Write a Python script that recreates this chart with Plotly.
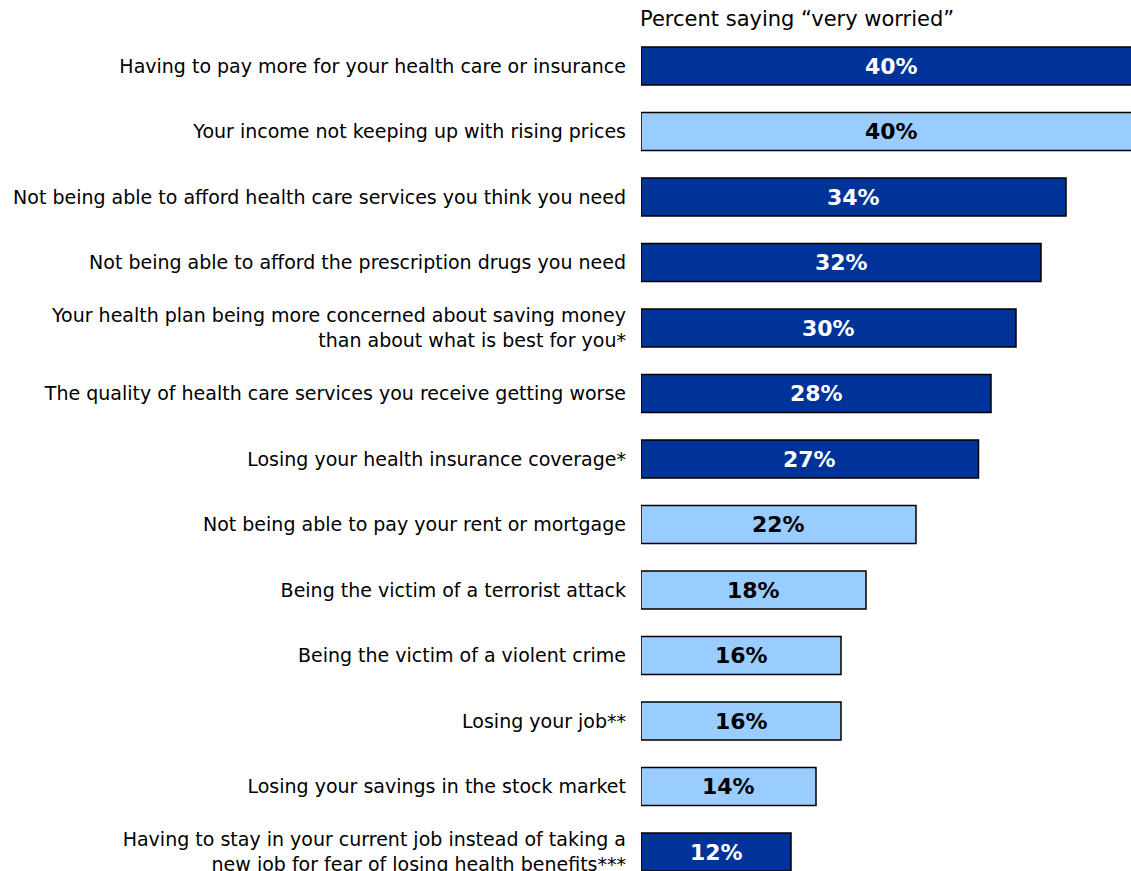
import plotly.graph_objects as go

# Survey items, top to bottom
categories = [
    "Having to pay more for your health care or insurance",
    "Your income not keeping up with rising prices",
    "Not being able to afford health care services you think you need",
    "Not being able to afford the prescription drugs you need",
    "Your health plan being more concerned about saving money<br>than about what is best for you*",
    "The quality of health care services you receive getting worse",
    "Losing your health insurance coverage*",
    "Not being able to pay your rent or mortgage",
    "Being the victim of a terrorist attack",
    "Being the victim of a violent crime",
    "Losing your job**",
    "Losing your savings in the stock market",
    "Having to stay in your current job instead of taking a<br>new job for fear of losing health benefits***",
]
# Percent saying "very worried"
values = [40, 40, 34, 32, 30, 28, 27, 22, 18, 16, 16, 14, 12]
# True = health-related item (dark bar), False = other worry (light bar)
health_item = [True, False, True, True, True, True, True,
               False, False, False, False, False, True]

DARK = "#003399"
LIGHT = "#99CCFF"
FONT = "DejaVu Sans"

positions = list(range(len(categories)))
colors = [DARK if h else LIGHT for h in health_item]

fig = go.Figure(
    go.Bar(
        x=values,
        y=positions,
        orientation="h",
        width=0.58,
        marker=dict(color=colors, line=dict(color="#000000", width=1.5)),
        hoverinfo="skip",
    )
)

# Value labels centred on each bar
for pos, val, h in zip(positions, values, health_item):
    fig.add_annotation(
        x=val / 2, y=pos, xref="x", yref="y",
        text=f"<b>{val}%</b>", showarrow=False,
        font=dict(family=FONT, size=22, color="#FFFFFF" if h else "#000000"),
    )

fig.add_annotation(
    x=0, y=1, xref="paper", yref="paper",
    xanchor="left", yanchor="middle", yshift=-19, xshift=-3,
    text="Percent saying \u201cvery worried\u201d", showarrow=False,
    font=dict(family=FONT, size=21, color="#000000"),
)

fig.update_layout(
    width=1131, height=871,
    margin=dict(l=641, r=0, t=0, b=0),
    paper_bgcolor="#FFFFFF", plot_bgcolor="#FFFFFF",
    showlegend=False,
    font=dict(family=FONT, size=19, color="#000000"),
)
fig.update_xaxes(range=[0, 39.2], visible=False, fixedrange=True, automargin=False)
fig.update_yaxes(
    range=[12.29, -1.0076],
    tickvals=positions, ticktext=categories,
    showgrid=False, zeroline=False, showline=False,
    ticks="", ticklabelstandoff=14, ticklabeloverflow="allow",
    tickfont=dict(family=FONT, size=19, color="#000000"),
    fixedrange=True, automargin=False,
)

fig.write_html("out.html")
